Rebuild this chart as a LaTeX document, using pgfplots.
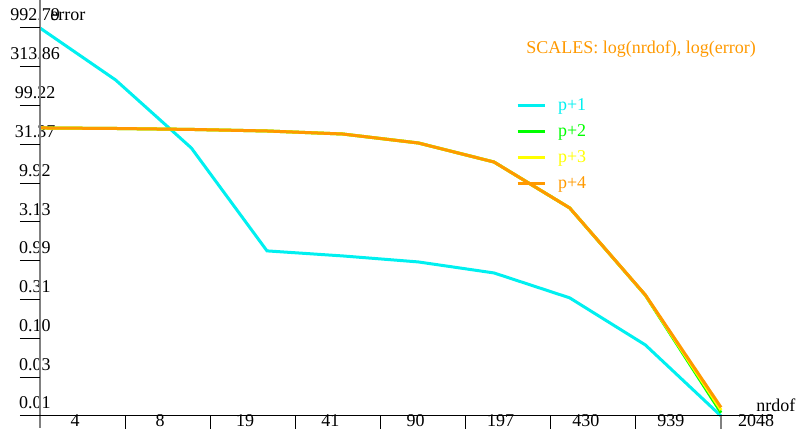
\documentclass[border=0pt]{standalone}
\usepackage{fontspec}
\setmainfont{Liberation Serif}
\usepackage{pgfplots}
\pgfplotsset{compat=1.18}
\definecolor{myorange}{RGB}{255,153,0}
\definecolor{mycyan}{RGB}{0,240,240}
\definecolor{mygreen}{RGB}{0,255,0}
\definecolor{myyellow}{RGB}{255,255,0}
\begin{document}
\begin{tikzpicture}[font=\fontsize{9}{11}\selectfont]
\useasboundingbox (-20pt,-11pt) rectangle (379pt,208pt);
\begin{axis}[
  at={(0pt,0pt)}, anchor=south west,
  scale only axis, width=340.5pt, height=194pt,
  xmode=log, ymode=log,
  xmin=4, xmax=2048, ymin=0.009899, ymax=992.79,
  axis line style={draw=none},
  major tick length=0pt, minor tick length=0pt,
  minor xtick={}, minor ytick={},
  xtick={4,8.724,19.027,41.50,90.51,197.40,430.54,939.0,2048},
  xticklabels={4,8,19,41,90,197,430,939,2048},
  ytick={0.009899,0.031312,0.099045,0.31329,0.99098,3.1346,9.9153,31.363,99.21,313.8,992.79},
  yticklabels={0.01,0.03,0.10,0.31,0.99,3.13,9.92,31.37,99.22,313.86,992.79},
  xticklabel style={anchor=base, xshift=17.5pt, yshift=-5.5pt},
  yticklabel style={anchor=base, xshift=-2.5pt, yshift=3.5pt},
  /pgf/number format/assume math mode=true,
  tick label style={font=\fontsize{9}{11}\selectfont},
  clip=false,
  legend cell align=left,
  legend style={draw=none, fill=none, at={(axis description cs:0.699,0.821)}, anchor=north west,
    inner sep=0pt, outer sep=0pt, row sep=5pt, column sep=6pt,
    nodes={inner sep=0pt, text height=6.3pt, text depth=1.7pt}},
  legend image code/.code={\draw[#1] (0pt,0pt) -- (13.5pt,0pt);},
]
\addplot[mycyan, line width=1.5pt] coordinates {(4,992.79) (8,212) (16,28.2) (32,1.33) (64,1.145) (128,0.958) (256,0.691) (512,0.330) (1024,0.0816) (2048,0.0099)};
\addlegendentry{\textcolor{mycyan}{p+1}}
\addplot[mygreen, line width=1.5pt] coordinates {(4,51.1) (8,50.3) (16,48.9) (32,46.7) (64,42.7) (128,32.7) (256,18.6) (512,4.76) (1024,0.357) (2048,0.0109)};
\addlegendentry{\textcolor{mygreen}{p+2}}
\addplot[myyellow, line width=1.5pt] coordinates {(4,51.1) (8,50.3) (16,48.9) (32,46.7) (64,42.7) (128,32.7) (256,18.6) (512,4.76) (1024,0.358) (2048,0.0118)};
\addlegendentry{\textcolor{myyellow}{p+3}}
\addplot[myorange, line width=1.5pt] coordinates {(4,51.1) (8,50.3) (16,48.9) (32,46.7) (64,42.7) (128,32.7) (256,18.6) (512,4.76) (1024,0.360) (2048,0.0128)};
\addlegendentry{\textcolor{myorange}{p+4}}
\end{axis}
\draw[gray, line width=0.8pt] (0,208pt) -- (0,-6pt);
\draw[black, line width=0.5pt] (-10pt,0) -- (366.5pt,0);
\foreach \k in {1,...,10} \draw[line width=0.5pt] (-10pt,\k*19.4pt) -- (0,\k*19.4pt);
\foreach \k in {1,...,7} \draw[line width=0.5pt] (\k*42.5625pt,0) -- (\k*42.5625pt,-6.5pt);
\draw[gray, line width=0.8pt] (340.5pt,0) -- (340.5pt,-6.5pt);
\node[anchor=base west, inner sep=0pt] at (5pt,197.5pt) {error};
\node[anchor=base west, inner sep=0pt] at (358pt,2pt) {nrdof};
\node[anchor=base west, inner sep=0pt, text=myorange] at (243pt,181pt) {SCALES: log(nrdof), log(error)};
\end{tikzpicture}
\end{document}
